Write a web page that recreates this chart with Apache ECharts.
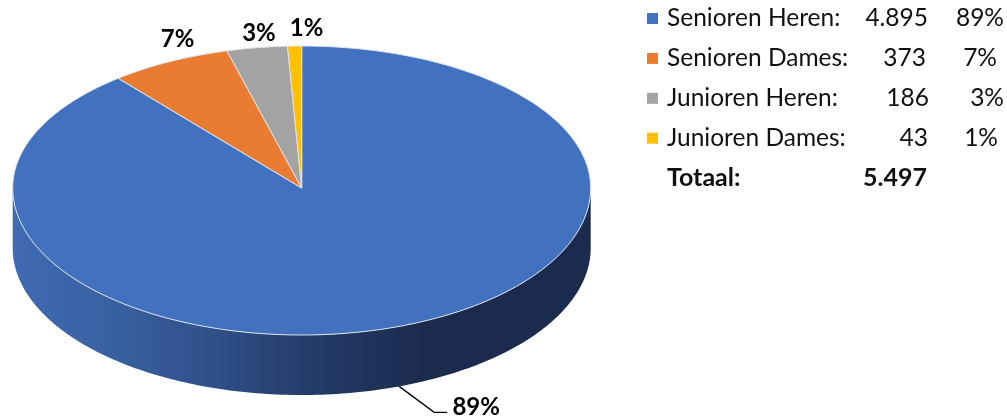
<!DOCTYPE html>
<html>
<head>
<meta charset="utf-8">
<title>Leden</title>
<script src="https://cdn.jsdelivr.net/npm/echarts@6/dist/echarts.min.js"></script>
<style>
  html, body { margin: 0; padding: 0; background: #fff; }
  #chart { width: 1007px; height: 416px; }
</style>
</head>
<body>
<div id="chart"></div>
<script>
const categories = ['Senioren Heren', 'Senioren Dames', 'Junioren Heren', 'Junioren Dames']
const values = [4895, 373, 186, 43]
const totalLabel = 'Totaal'

const colors = ['#4271BF', '#EA7C31', '#A3A3A3', '#FFC000']

// pie geometry, the top half is a bit flatter because of the perspective
const pie = { cx: 301.7, cy: 188, rx: 289, ryTop: 142, ryBottom: 147, depth: 60 }
// offset of each percentage label from the outer edge of its slice
const labelOffsets = [[77, 21], [8, -22], [2, -14], [12, -18]]
// right edge of the legend columns, row by row
const valueRight = [928, 926, 929, 928, 927]
const pctRight = [1004, 997, 1004, 998]

const total = values.reduce((a, b) => a + b, 0)
const pct = v => Math.round(v / total * 100) + '%'
const thousands = v => String(v).replace(/\B(?=(\d{3})+$)/g, '.')

const FONT = 'Lato'
const NAME_LEFT = 667
const TEXT_LEFT = NAME_LEFT + 185

// angle in degrees, clockwise from twelve o'clock
function edgePoint(deg, dy = 0) {
  const a = deg * Math.PI / 180
  const ry = Math.cos(a) > 0 ? pie.ryTop : pie.ryBottom
  return [pie.cx + pie.rx * Math.sin(a), pie.cy - ry * Math.cos(a) + dy]
}

function arcPoints(from, to, dy = 0) {
  const pts = []
  for (let d = from; d < to; d += 1) pts.push(edgePoint(d, dy))
  pts.push(edgePoint(to, dy))
  return pts
}

const wallGradient = new echarts.graphic.LinearGradient(0, 0, 1, 0, [
  { offset: 0, color: '#3f6bb3' },
  { offset: 0.15, color: '#3a62a4' },
  { offset: 0.32, color: '#30538d' },
  { offset: 0.5, color: '#263e6c' },
  { offset: 0.62, color: '#1f3259' },
  { offset: 0.72, color: '#1a2b4d' },
  { offset: 1, color: '#1a2b4d' }
])

function renderSlice(index) {
  return (params, api) => {
    const value = api.value(0)
    const start = api.value(1) / total * 360
    const end = start + value / total * 360
    const mid = (start + end) / 2
    const children = []

    // side wall, only where the slice faces the viewer
    const wallFrom = Math.max(start, 90)
    const wallTo = Math.min(end, 270)
    if (wallTo > wallFrom) {
      children.push({
        type: 'polygon',
        shape: {
          points: arcPoints(wallFrom, wallTo).concat(arcPoints(wallFrom, wallTo, pie.depth).reverse())
        },
        style: { fill: wallGradient }
      })
    }

    children.push({
      type: 'polygon',
      shape: { points: [[pie.cx, pie.cy]].concat(arcPoints(start, end)) },
      style: { fill: colors[index], stroke: '#dfe4ec', lineWidth: 1, lineJoin: 'round' }
    })

    // the label of a slice on the front sits under the wall with a leader line
    const facing = mid > 90 && mid < 270
    const anchor = edgePoint(mid, facing ? pie.depth : 0)
    const lx = anchor[0] + labelOffsets[index][0]
    const ly = anchor[1] + labelOffsets[index][1]
    if (facing) {
      children.push({
        type: 'polyline',
        shape: { points: [anchor, [lx - 42, ly + 5], [lx - 29, ly + 5]] },
        style: { stroke: '#000', lineWidth: 1.3, fill: null }
      })
    }
    children.push({
      type: 'text',
      style: {
        text: pct(value),
        x: lx,
        y: ly,
        fill: '#000',
        fontFamily: FONT,
        fontSize: 24,
        fontWeight: 'bold',
        textAlign: 'center',
        textVerticalAlign: 'middle'
      }
    })
    return { type: 'group', children }
  }
}

let offset = 0
const series = categories.map((name, i) => {
  const item = {
    type: 'custom',
    name,
    coordinateSystem: 'none',
    itemStyle: { color: colors[i] },
    data: [[values[i], offset]],
    renderItem: renderSlice(i)
  }
  offset += values[i]
  return item
})
// only there to give the total its own row in the legend
series.push({
  type: 'custom',
  name: totalLabel,
  coordinateSystem: 'none',
  data: [],
  renderItem: () => null
})

const rich = {}
const textStyle = { fontFamily: FONT, fontSize: 24.5, color: '#111', height: 24, lineHeight: 24 }
valueRight.forEach((right, i) => {
  const bold = i === categories.length ? { fontWeight: 'bold', fontSize: 25 } : {}
  rich['n' + i] = { ...textStyle, ...bold, width: TEXT_LEFT - NAME_LEFT, align: 'left' }
  rich['v' + i] = { ...textStyle, ...bold, width: right - TEXT_LEFT, align: 'right' }
  if (i < pctRight.length) {
    rich['p' + i] = { ...textStyle, width: pctRight[i] - right, align: 'right' }
  }
})

const option = {
  animation: false,
  tooltip: { show: false },
  legend: {
    left: 642,
    top: 1,
    orient: 'vertical',
    selectedMode: false,
    itemWidth: 11,
    itemHeight: 11,
    itemGap: 14.9,
    data: categories.map(name => ({ name, icon: 'rect' })).concat([{ name: totalLabel, icon: 'none' }]),
    textStyle: { rich, padding: [0, 0, 0, 4] },
    formatter: name => {
      const i = categories.indexOf(name)
      if (i < 0) {
        const k = categories.length
        return `{n${k}|${name}:}{v${k}|${thousands(total)}}`
      }
      return `{n${i}|${name}:}{v${i}|${thousands(values[i])}}{p${i}|${pct(values[i])}}`
    }
  },
  series
}

const chart = echarts.init(document.getElementById('chart'))
chart.setOption(option)
</script>
</body>
</html>
